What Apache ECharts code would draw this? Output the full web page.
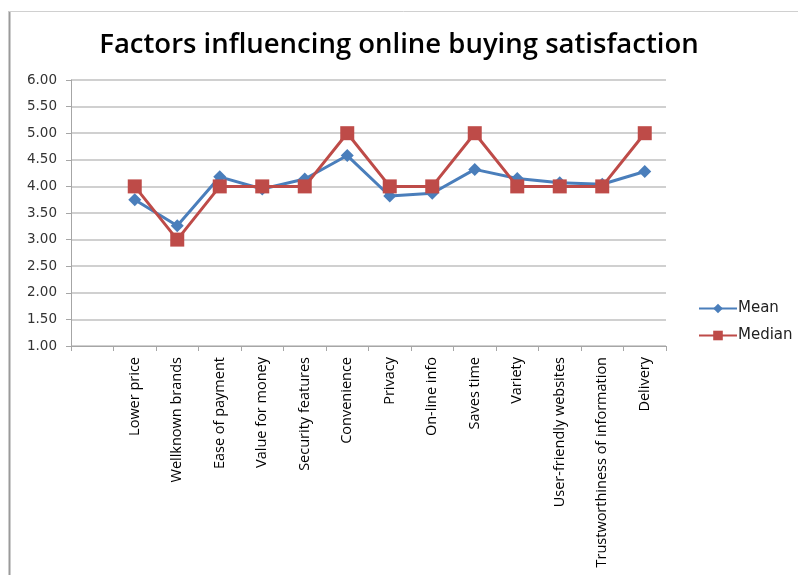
<!DOCTYPE html>
<html>
<head>
<meta charset="utf-8">
<script src="https://cdn.jsdelivr.net/npm/echarts@6/dist/echarts.min.js"></script>
<style>
html,body{margin:0;padding:0;background:#fff;}
#chart{width:798px;height:575px;}
</style>
</head>
<body>
<div id="chart"></div>
<script>
const categories = ['', 'Lower price', 'Wellknown brands', 'Ease of payment', 'Value for money', 'Security features', 'Convenience', 'Privacy', 'On-line info', 'Saves time', 'Variety', 'User-friendly websites', 'Trustworthiness of information', 'Delivery'];
const meanValues = [null, 3.75, 3.26, 4.18, 3.95, 4.14, 4.58, 3.82, 3.87, 4.32, 4.15, 4.07, 4.04, 4.28];
const medianValues = [null, 4, 3, 4, 4, 4, 5, 4, 4, 5, 4, 4, 4, 5];
const titleText = 'Factors influencing online buying satisfaction';

const chart = echarts.init(document.getElementById('chart'), null, {renderer: 'canvas'});
chart.setOption({
  animation: false,
  backgroundColor: '#fff',
  title: {
    text: titleText,
    left: 'center',
    top: 26,
    textStyle: {fontFamily: 'Open Sans', fontSize: 27.5, fontWeight: 600, color: '#000'}
  },
  graphic: [
    {type: 'line', shape: {x1: 9.5, y1: 11, x2: 9.5, y2: 575}, style: {stroke: '#9a9a9a', lineWidth: 2}},
    {type: 'line', shape: {x1: 9, y1: 11.5, x2: 798, y2: 11.5}, style: {stroke: '#d0d0d0', lineWidth: 1}}
  ],
  legend: {
    orient: 'vertical',
    left: 693,
    top: 296,
    itemWidth: 38,
    itemHeight: 12,
    itemGap: 12,
    textStyle: {fontFamily: 'DejaVu Sans', fontSize: 15, color: '#222', padding: [0, 0, 0, -4]},
    data: ['Mean', 'Median']
  },
  grid: {left: 71, right: 132, top: 80, bottom: 229, containLabel: false},
  xAxis: {
    type: 'category',
    data: categories,
    boundaryGap: true,
    axisLine: {lineStyle: {color: '#a6a6a6', width: 1}},
    axisTick: {show: true, alignWithLabel: false, length: 5, lineStyle: {color: '#a6a6a6'}},
    axisLabel: {rotate: 90, interval: 0, margin: 11, fontFamily: 'Open Sans', fontSize: 14.5, color: '#000'},
    splitLine: {show: false}
  },
  yAxis: {
    type: 'value',
    min: 1,
    max: 6,
    interval: 0.5,
    axisLine: {show: true, lineStyle: {color: '#a6a6a6'}},
    axisTick: {show: true, length: 5, lineStyle: {color: '#a6a6a6'}},
    axisLabel: {formatter: v => v.toFixed(2), margin: 14, fontFamily: 'DejaVu Sans', fontSize: 13.5, color: '#333'},
    splitLine: {lineStyle: {color: '#c0c0c0', width: 1.5}}
  },
  series: [
    {
      name: 'Mean', type: 'line', data: meanValues,
      symbol: 'diamond', symbolSize: 13,
      lineStyle: {color: '#4a7ebb', width: 3},
      itemStyle: {color: '#4a7ebb'},
      z: 2
    },
    {
      name: 'Median', type: 'line', data: medianValues,
      symbol: 'rect', symbolSize: 14,
      lineStyle: {color: '#be4b48', width: 3},
      itemStyle: {color: '#be4b48'},
      z: 3
    }
  ]
});
</script>
</body>
</html>
